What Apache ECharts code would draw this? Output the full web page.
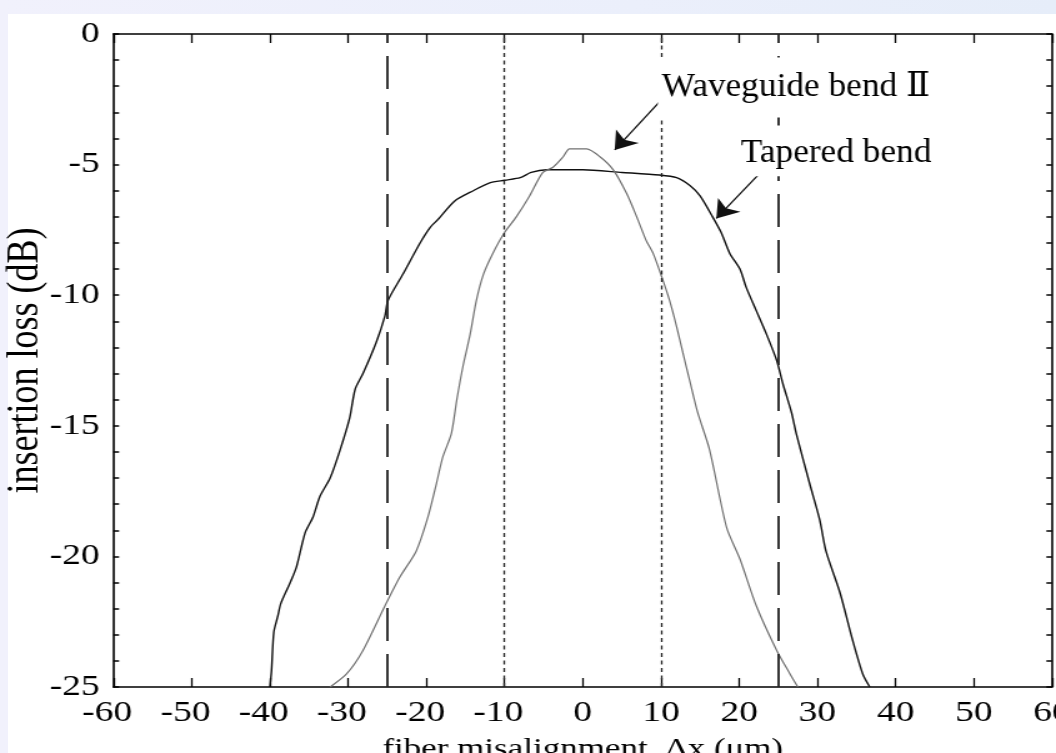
<!DOCTYPE html>
<html>
<head>
<meta charset="utf-8">
<script src="https://cdn.jsdelivr.net/npm/echarts@6/dist/echarts.min.js"></script>
<style>
  html, body { margin:0; padding:0; }
  body { width:1056px; height:753px; overflow:hidden; position:relative;
         background: linear-gradient(to right, #f1f1fc 0%, #ebeffb 60%, #e6edf9 100%); }
  #white { position:absolute; left:8px; top:14px; right:0; bottom:0; background:#ffffff; }
  #chart { position:absolute; left:0; top:0; width:845px; height:753px;
           transform: scaleX(1.2497); transform-origin: 0 0; }
</style>
</head>
<body>
<div id="white"></div>
<div id="chart"></div>
<script>
// ---------------- data ----------------
const xMin = -60, xMax = 60, xStep = 10;
const yMin = -25, yMax = 0, yMinorStep = 1, yLabelStep = 5;

const taperedX = [-40.0,-39.8,-39.5,-39.0,-38.6,-37.4,-36.6,-35.5,-34.5,-33.6,-32.3,-31.0,-29.8,-29.1,-28.1,-26.4,-25.3,-24.9,-23.0,-20.8,-19.5,-18.5,-16.4,-14.0,-11.9,-10.0,-8.0,-6.6,-4.6,0.0,5.0,9.8,12.0,13.7,15.0,16.6,17.7,18.8,20.1,20.9,22.2,23.5,24.8,25.6,26.7,27.3,29.0,30.3,31.1,32.9,34.5,35.8,36.7];
const taperedY = [-25.0,-24.4,-22.9,-22.3,-21.8,-21.0,-20.4,-19.1,-18.5,-17.7,-17.0,-15.9,-14.7,-13.6,-13.0,-11.8,-10.8,-10.2,-9.2,-8.0,-7.4,-7.1,-6.4,-6.0,-5.7,-5.6,-5.5,-5.3,-5.2,-5.2,-5.3,-5.4,-5.5,-5.8,-6.2,-7.0,-7.6,-8.4,-9.0,-9.7,-10.6,-11.5,-12.5,-13.4,-14.5,-15.3,-17.2,-18.6,-19.8,-21.4,-23.2,-24.5,-25.0];

const waveguideX = [-32.3,-30.2,-28.1,-25.3,-23.4,-21.3,-19.8,-18.7,-17.9,-16.8,-16.1,-15.3,-14.4,-13.6,-12.7,-11.5,-10.0,-8.5,-6.8,-5.1,-3.8,-2.5,-1.7,-0.4,0.5,2.2,3.9,5.6,6.9,8.1,9.0,10.1,11.1,12.0,12.8,13.7,14.7,16.2,18.4,20.1,22.2,24.8,26.5,27.5];
const waveguideY = [-25.0,-24.5,-23.6,-21.9,-20.8,-19.8,-18.5,-17.2,-16.2,-15.3,-14.0,-12.7,-11.5,-10.2,-9.2,-8.4,-7.6,-7.0,-6.2,-5.3,-5.1,-4.7,-4.4,-4.4,-4.4,-4.7,-5.2,-6.1,-7.0,-7.9,-8.4,-9.3,-10.2,-11.2,-12.2,-13.3,-14.5,-15.9,-18.9,-20.1,-21.9,-23.6,-24.5,-25.0];

// vertical reference lines (x positions) and their styles
const refLineX    = [-25, -10, 10, 25];
const refLineKind = ['dash', 'dot', 'dot', 'dash'];

// annotations: label text, label anchor (data coords), white label box (data coords), arrow from/to
const annoText   = ['Waveguide bend Ⅱ', 'Tapered bend'];
const annoAnchor = [[10.1, -2.04], [20.2, -4.56]];
const annoBoxA   = [[9.6, -0.9], [19.8, -3.5]];
const annoBoxB   = [[45.0, -3.2], [45.9, -5.45]];
const arrowFrom  = [[9.84, -2.59], [22.84, -5.27]];
const arrowTo    = [[4.09, -4.44], [17.08, -7.06]];

const xName = 'fiber misalignment, Δx (μm)';
const yName = 'insertion loss (dB)';

// ---------------- chart ----------------
const SERIF = '"Liberation Serif","Times New Roman",serif';
const SX = 1.2497;               // CSS horizontal stretch of the chart
const chart = echarts.init(document.getElementById('chart'), null, {renderer:'canvas'});

const pairs = (xs, ys) => xs.map((x, i) => [x, ys[i]]);
const lineStyles = {
  dash: {type:[33, 13], width:1.8, color:'#222'},
  dot:  {type:[4, 3.5], width:1.3, color:'#222'}
};

const axisLineStyle = {color:'#000', width:1.6};

const option = {
  animation:false,
  backgroundColor:'transparent',
  grid:{left:90.8, right:3.2, top:34, bottom:66, containLabel:false, outerBoundsMode:'none'},
  xAxis:[{
    type:'value', min:xMin, max:xMax, interval:xStep, position:'bottom',
    axisLine:{show:true, onZero:false, lineStyle:axisLineStyle},
    axisTick:{show:true, inside:true, length:9, lineStyle:{color:'#000', width:1.3}},
    splitLine:{show:false},
    axisLabel:{
      margin:11, color:'#000', fontFamily:SERIF, fontSize:30,
      formatter: v => v < 0 ? '{neg|' + v + '}' : String(v),
      rich:{neg:{padding:[0,10,0,0], fontFamily:SERIF, fontSize:30, color:'#000'}}
    },
    name:xName, nameLocation:'middle', nameGap:49, nameMoveOverlap:false,
    nameTextStyle:{fontFamily:SERIF, fontSize:28, color:'#000'}
  },{
    type:'value', min:xMin, max:xMax, interval:xStep, position:'top',
    axisLine:{show:true, onZero:false, lineStyle:axisLineStyle},
    axisTick:{show:true, inside:true, length:9, lineStyle:{color:'#000', width:1.3}},
    splitLine:{show:false}, axisLabel:{show:false}
  }],
  yAxis:[{
    type:'value', min:yMin, max:yMax, interval:yMinorStep, position:'left',
    axisLine:{show:true, onZero:false, lineStyle:axisLineStyle},
    axisTick:{show:true, inside:true, length:4.5, lineStyle:{color:'#000', width:1.5}},
    splitLine:{show:false},
    axisLabel:{
      margin:11, color:'#000', fontFamily:SERIF, fontSize:30,
      formatter: v => (Math.round(v) % yLabelStep === 0) ? String(Math.round(v)) : ''
    },
    name:yName, nameLocation:'middle', nameGap:52, nameMoveOverlap:false,
    nameTextStyle:{fontFamily:SERIF, fontSize:36, color:'#000'}
  },{
    type:'value', min:yMin, max:yMax, interval:yMinorStep, position:'right',
    axisLine:{show:true, onZero:false, lineStyle:axisLineStyle},
    axisTick:{show:true, inside:true, length:4.5, lineStyle:{color:'#000', width:1.5}},
    splitLine:{show:false}, axisLabel:{show:false}
  }],
  series:[{
    name:'Tapered bend', type:'line', xAxisIndex:0, yAxisIndex:0,
    data:pairs(taperedX, taperedY), symbol:'none', showSymbol:false, smooth:0.25,
    lineStyle:{color:'#111', width:1.4}, emphasis:{disabled:true}, silent:true,
    markLine:{
      silent:true, symbol:['none','none'], label:{show:false}, animation:false,
      emphasis:{disabled:true},
      data: refLineX.map((x, i) => ({xAxis:x, lineStyle:lineStyles[refLineKind[i]]}))
    }
  },{
    name:'Waveguide bend Ⅱ', type:'line', xAxisIndex:0, yAxisIndex:0,
    data:pairs(waveguideX, waveguideY), symbol:'none', showSymbol:false, smooth:0.25,
    lineStyle:{color:'#707070', width:1.2}, emphasis:{disabled:true}, silent:true,
    markLine:{
      silent:true, symbol:['none','arrow'], symbolSize:17, label:{show:false}, animation:false,
      emphasis:{disabled:true},
      lineStyle:{type:'solid', color:'#111', width:1.3},
      data: arrowFrom.map((f, i) => [{coord:f}, {coord:arrowTo[i]}])
    }
  }]
};
chart.setOption(option);

// annotation labels (positioned from data coordinates)
const textScale = 1.07 / SX;
const graphics = [];
annoText.forEach((t, i) => {
  const a = chart.convertToPixel({gridIndex:0}, annoBoxA[i]);
  const b = chart.convertToPixel({gridIndex:0}, annoBoxB[i]);
  graphics.push({
    type:'rect', z:99, silent:true,
    shape:{x:Math.min(a[0], b[0]), y:Math.min(a[1], b[1]),
           width:Math.abs(b[0]-a[0]), height:Math.abs(b[1]-a[1])},
    style:{fill:'#ffffff'}
  });
  const p = chart.convertToPixel({gridIndex:0}, annoAnchor[i]);
  graphics.push({
    type:'text', x:p[0], y:p[1], scaleX:textScale, z:100, silent:true,
    style:{
      text:t, font:'33px "Liberation Serif","DejaVu Serif",serif', fill:'#000',
      align:'left', verticalAlign:'middle'
    }
  });
});
chart.setOption({graphic:graphics});
</script>
</body>
</html>
